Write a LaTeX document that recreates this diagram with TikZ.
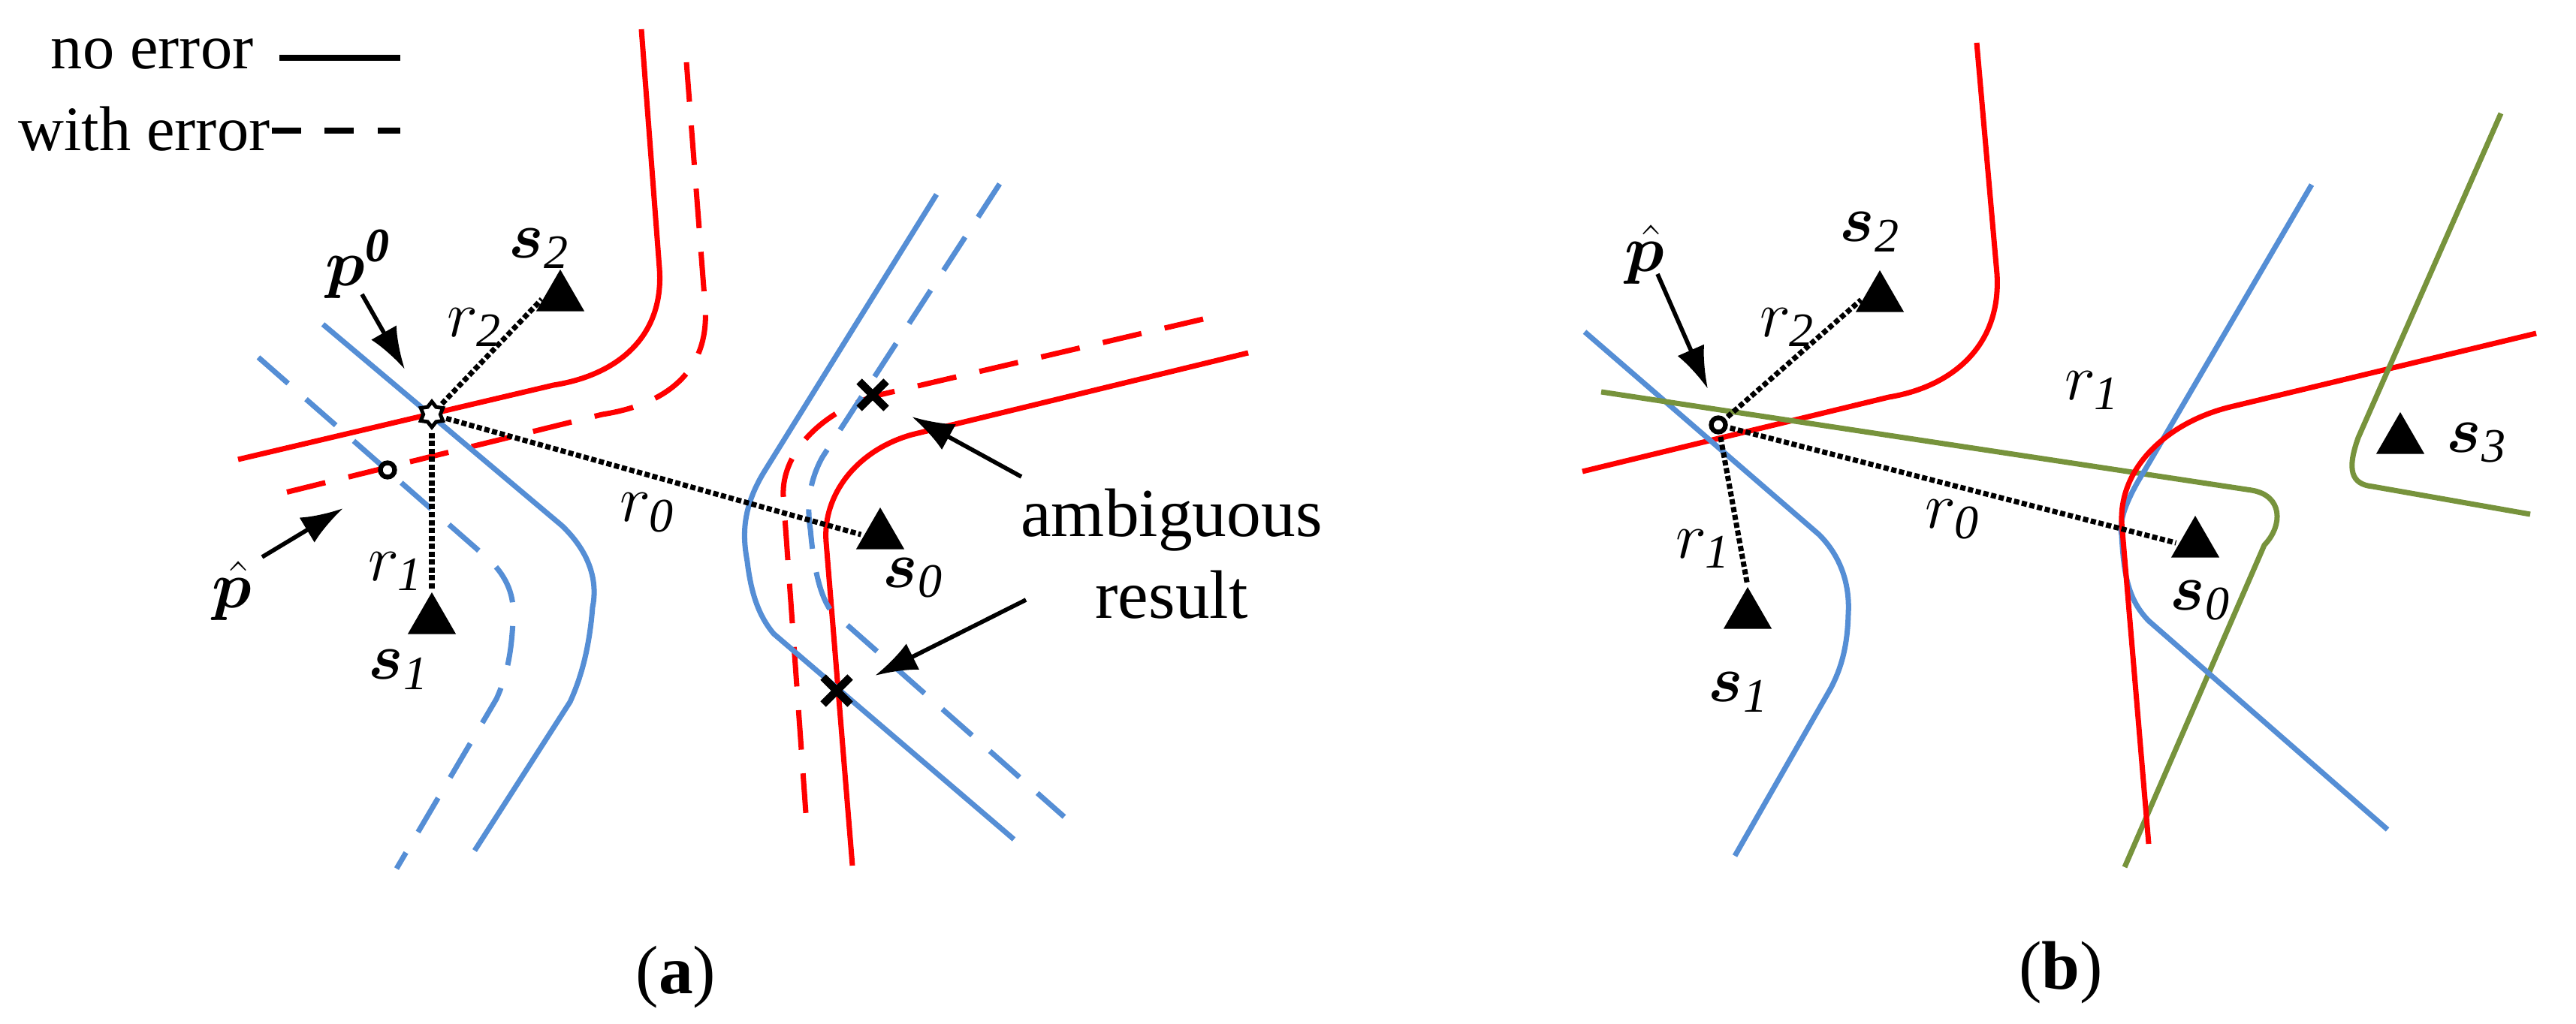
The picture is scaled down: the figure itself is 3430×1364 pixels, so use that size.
\documentclass[tikz,border=0pt]{standalone}
\usepackage{amsmath,bm}
\usepackage{fontspec}
\setmainfont{Liberation Serif}
\usepackage{tikz}
\usetikzlibrary{shapes.geometric,arrows.meta}
\tikzset{
  curve/.style={line width=2pt},
  redc/.style={curve,draw=red},
  bluec/.style={curve,draw={rgb,255:red,85;green,142;blue,213}},
  greenc/.style={curve,draw={rgb,255:red,119;green,147;blue,60}},
  errc/.style={dash pattern=on 15pt off 9pt},
  rangeline/.style={densely dotted,line width=2pt,shorten <=1pt,shorten >=1pt},
  anchorpt/.style={regular polygon,regular polygon sides=3,fill=black,inner sep=0pt,minimum size=0.74cm},
  point/.style={circle,draw=black,line width=1.8pt,fill=white,inner sep=0pt,minimum size=0.19cm},
  pointer/.style={-{Latex[length=16pt,width=11pt]},line width=1.6pt},
  cross/.style={line width=3pt},
  lbl/.style={font=\fontsize{26}{31}\selectfont},
  legend/.style={font=\fontsize{24}{29}\selectfont,inner sep=0pt},
}
\begin{document}
\begin{tikzpicture}[x=0.01cm,y=-0.01cm,lbl]
\useasboundingbox (0,0) rectangle (3430,1364);
% legend
\node[legend,anchor=east] (noerr) at (338,72) {no error};
\node[legend,anchor=east] (witherr) at (360,172) {with error};
\draw[curve] (372,77) -- (533,77);
\draw[curve,dash pattern=on 11pt off 9pt] (362,174) -- (533,174);
% (a) curves
\draw[redc] (854,39) -- (878,357) .. controls (885,450) and (820,500) .. (737,513) -- (317,612);
\draw[redc,errc] (914,83) -- (939,409) .. controls (945,500) and (880,540) .. (802,552) -- (376,657);
\draw[bluec] (430,432) -- (748,700) .. controls (790,740) and (795,780) .. (789,809) .. controls (785,860) and (775,900) .. (759,935) -- (632,1133);
\draw[bluec,errc] (344,476) -- (654,748) .. controls (680,775) and (685,800) .. (683,827) .. controls (681,870) and (675,900) .. (661,931) -- (528,1157);
\draw[redc] (1662,470) -- (1214,579) .. controls (1140,600) and (1095,660) .. (1100,722) -- (1135,1153);
\draw[redc,errc] (1602,425) -- (1171,526) .. controls (1100,545) and (1040,600) .. (1043,661) -- (1073,1083);
\draw[bluec] (1247,259) -- (1019,626) .. controls (985,680) and (990,720) .. (995,748) .. controls (1000,790) and (1010,820) .. (1030,844) -- (1350,1118);
\draw[bluec,errc] (1331,245) -- (1095,609) .. controls (1075,645) and (1075,680) .. (1079,705) .. controls (1083,750) and (1090,790) .. (1106,813) -- (1417,1088);
% (a) points
\node[anchorpt] (s2a) at (746,396) {};
\node[anchorpt] (s1a) at (575,826) {};
\node[anchorpt] (s0a) at (1172,713) {};
\node[star,star points=6,draw=black,fill=white,line width=1.4pt,inner sep=0pt,minimum size=0.34cm] (p0) at (575,552) {};
\node[point] (phata) at (516,626) {};
\coordinate (xa) at (1162,526);
\coordinate (xb) at (1114,920);
\draw[cross] ([shift={(-18,-18)}]xa) -- ([shift={(18,18)}]xa) ([shift={(-18,18)}]xa) -- ([shift={(18,-18)}]xa);
\draw[cross] ([shift={(-18,-18)}]xb) -- ([shift={(18,18)}]xb) ([shift={(-18,18)}]xb) -- ([shift={(18,-18)}]xb);
\draw[rangeline] (p0) -- (s2a.west);
\draw[rangeline] (p0) -- (s1a.north);
\draw[rangeline] (p0) -- (s0a.west);
\node (r2a) at (632,436) {$r_{\mathit 2}$};
\node (r1a) at (527,761) {$r_{\mathit 1}$};
\node (r0a) at (862,683) {$r_{\mathit 0}$};
\node (s2al) at (718,331) {$\bm{s}_{\mathit 2}$};
\node (s1al) at (531,892) {$\bm{s}_{\mathit 1}$};
\node (s0al) at (1216,770) {$\bm{s}_{\mathit 0}$};
\node (p0l) at (477,352) {$\bm{p}^{\bm{\mathit 0}}$};
\node (phatal) at (309,787) {$\hat{\bm p}$};
\coordinate (p0t) at (482,392);
\coordinate (phatt) at (349,742);
\draw[pointer] (p0t) -- (539,492);
\draw[pointer] (phatt) -- (457,677);
\node[align=center] (amb) at (1560,738) {ambiguous\\result};
\coordinate (amb1) at (1360,635);
\coordinate (amb2) at (1366,799);
\draw[pointer] (amb1) -- (1214,555);
\draw[pointer] (amb2) -- (1165,900);
\node (capa) at (900,1302) {(\textbf{a})};
% (b) curves
\draw[redc] (2632,57) -- (2659,365) .. controls (2665,460) and (2600,515) .. (2515,529) -- (2107,628);
\draw[bluec] (2110,442) -- (2422,712) .. controls (2455,745) and (2463,785) .. (2461,818) .. controls (2460,860) and (2452,890) .. (2437,918) -- (2310,1140);
\draw[greenc] (2132,522) -- (2998,653) .. controls (3040,660) and (3040,700) .. (3015,726) -- (2829,1155);
\draw[bluec] (3078,246) -- (2856,626) .. controls (2825,675) and (2822,700) .. (2825,713) .. controls (2828,770) and (2835,800) .. (2861,827) -- (3179,1105);
\draw[redc] (3377,444) -- (2974,541) .. controls (2890,560) and (2822,620) .. (2825,696) -- (2861,1124);
\draw[greenc] (3330,151) -- (3140,583) .. controls (3125,625) and (3130,645) .. (3159,648) -- (3369,685);
% (b) points
\node[anchorpt] (s2b) at (2503,397) {};
\node[anchorpt] (s1b) at (2327,819) {};
\node[anchorpt] (s0b) at (2923,724) {};
\node[anchorpt] (s3b) at (3196,586) {};
\node[point] (phatb) at (2288,566) {};
\draw[rangeline] (phatb) -- (s2b.west);
\draw[rangeline] (phatb) -- (s1b.north);
\draw[rangeline] (phatb) -- (s0b.west);
\node (r2b) at (2380,436) {$r_{\mathit 2}$};
\node (r1b) at (2268,731) {$r_{\mathit 1}$};
\node (r0b) at (2600,692) {$r_{\mathit 0}$};
\node (r1c) at (2786,520) {$r_{\mathit 1}$};
\node (s2bl) at (2490,309) {$\bm{s}_{\mathit 2}$};
\node (s1bl) at (2315,922) {$\bm{s}_{\mathit 1}$};
\node (s0bl) at (2930,800) {$\bm{s}_{\mathit 0}$};
\node (s3bl) at (3298,590) {$\bm{s}_{\mathit 3}$};
\node (phatbl) at (2190,339) {$\hat{\bm p}$};
\coordinate (phatbt) at (2207,365);
\draw[pointer] (phatbt) -- (2274,518);
\node (capb) at (2744,1296) {(\textbf{b})};
\end{tikzpicture}
\end{document}
